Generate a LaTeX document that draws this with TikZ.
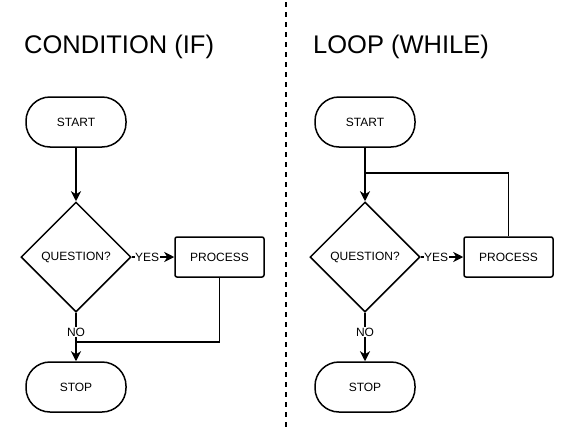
\documentclass[tikz,border=0pt]{standalone}
\usepackage{fontspec}
\setmainfont{Liberation Sans}
\usetikzlibrary{shapes.geometric,arrows.meta}
\tikzset{
  terminal/.style={draw, line width=1.5pt, rounded corners=24pt,
    minimum width=100pt, minimum height=50pt, font=\fontsize{12}{14}\selectfont},
  decision/.style={draw, diamond, line width=1.5pt, minimum width=110pt,
    minimum height=110pt, inner sep=0pt, font=\fontsize{12}{14}\selectfont},
  process/.style={draw, line width=1.5pt, rounded corners=2pt,
    minimum width=89pt, minimum height=40pt, font=\fontsize{12}{14}\selectfont},
  link/.style={line width=1.9pt},
  flow/.style={link, -{Stealth[length=10pt,width=10pt,inset=3pt]}},
  answer/.style={fill=white, inner sep=0.5pt, font=\fontsize{12}{14}\selectfont},
  heading/.style={inner sep=0pt, anchor=base west, font=\fontsize{25.5}{30}\selectfont}
}
\begin{document}
\begin{tikzpicture}[x=1pt,y=-1pt]
\useasboundingbox (0,0) rectangle (573,434);
% divider
\coordinate (divtop) at (286,2);
\coordinate (divbot) at (286,430);
\draw[line width=1.5pt, dash pattern=on 5pt off 5pt] (divtop) -- (divbot);

% condition
\node[heading] (cond) at (24,53) {CONDITION (IF)};
\node[terminal] (start1) at (76,122) {START};
\node[decision] (q1) at (76,257) {QUESTION?};
\node[process] (proc1) at (219.5,257) {PROCESS};
\node[terminal] (stop1) at (76,387) {STOP};
\coordinate (join1) at (76,342);
\draw[flow] (start1) -- (q1);
\draw[flow] (q1) -- node[answer, pos=0.36] {YES} (proc1);
\draw[flow] (q1) -- node[answer, pos=0.4] {NO} (stop1);
\draw[link] (proc1.south) |- (join1);

% loop
\node[heading] (loop) at (313,53) {LOOP (WHILE)};
\node[terminal] (start2) at (365,122) {START};
\node[decision] (q2) at (365,257) {QUESTION?};
\node[process] (proc2) at (508.5,257) {PROCESS};
\node[terminal] (stop2) at (365,387) {STOP};
\coordinate (join2) at (365,173);
\draw[flow] (start2) -- (q2);
\draw[flow] (q2) -- node[answer, pos=0.36] {YES} (proc2);
\draw[flow] (q2) -- node[answer, pos=0.4] {NO} (stop2);
\draw[link] (proc2.north) |- (join2);
\end{tikzpicture}
\end{document}
